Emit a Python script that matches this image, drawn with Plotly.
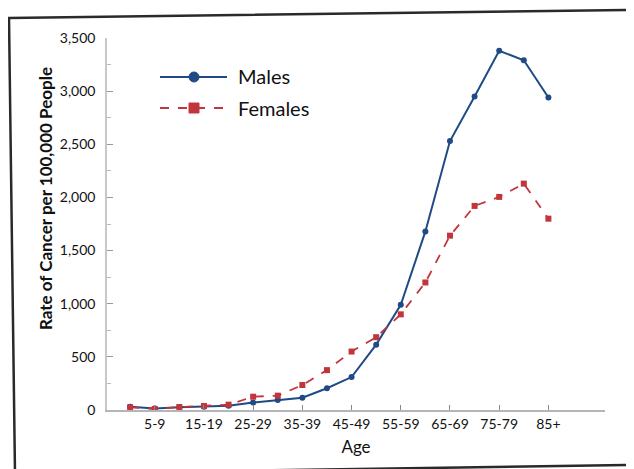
import plotly.graph_objects as go

age_groups = ["0-4", "5-9", "10-14", "15-19", "20-24", "25-29", "30-34", "35-39", "40-44",
              "45-49", "50-54", "55-59", "60-64", "65-69", "70-74", "75-79", "80-84", "85+"]
males = [30, 15, 25, 30, 40, 70, 95, 115, 205, 310, 615, 990, 1680, 2530, 2950, 3380, 3290, 2940]
females = [25, 10, 28, 38, 50, 125, 135, 235, 375, 550, 685, 900, 1200, 1640, 1920, 2005, 2130, 1800]
tick_labels = ["5-9", "15-19", "25-29", "35-39", "45-49", "55-59", "65-69", "75-79", "85+"]
y_ticks = [0, 500, 1000, 1500, 2000, 2500, 3000, 3500]

BLUE = "#1f4a86"
RED = "#c0363c"
FONT = "Lato"
TXT = "#111111"

OFF = 8  # page body margin
W, H = 634 - OFF, 469 - OFF
L, R, T, B = 107, 605, 38, 410  # plot area in reference pixels

def px(x):
    return (x - L) / (R - L)

def py(y):
    return (B - y) / (B - T)

fig = go.Figure()
fig.add_trace(go.Scatter(x=age_groups, y=males, mode="lines+markers", name="Males",
                         line=dict(color=BLUE, width=2),
                         marker=dict(symbol="circle", size=6, color=BLUE)))
fig.add_trace(go.Scatter(x=age_groups, y=females, mode="lines+markers", name="Females",
                         line=dict(color=RED, width=1.8, dash="dash"),
                         marker=dict(symbol="square", size=6, color=RED)))

shapes = []
# scanned frame border
shapes.append(dict(type="path", xref="paper", yref="paper",
                   path=f"M {px(9)},{py(18)} L {px(632)},{py(10)} L {px(634)},{py(465)} L {px(15)},{py(474)} Z",
                   line=dict(color="#2a2a2a", width=2.5), fillcolor="rgba(0,0,0,0)", layer="below"))
# manual legend
shapes.append(dict(type="line", xref="paper", yref="paper", x0=px(160), x1=px(227), y0=py(77), y1=py(77),
                   line=dict(color=BLUE, width=2)))
shapes.append(dict(type="circle", xref="paper", yref="paper", x0=px(189), x1=px(199), y0=py(72), y1=py(82),
                   line=dict(color=BLUE, width=1), fillcolor=BLUE))
shapes.append(dict(type="line", xref="paper", yref="paper", x0=px(160), x1=px(227), y0=py(108), y1=py(108),
                   line=dict(color=RED, width=2, dash="dash")))
shapes.append(dict(type="rect", xref="paper", yref="paper", x0=px(189), x1=px(199), y0=py(103), y1=py(113),
                   line=dict(color=RED, width=1), fillcolor=RED))

annotations = [
    dict(text="Males", xref="paper", yref="paper", x=px(236), y=py(76), xanchor="left", yanchor="middle",
         showarrow=False, font=dict(family=FONT, size=20, color=TXT)),
    dict(text="Females", xref="paper", yref="paper", x=px(236), y=py(108), xanchor="left", yanchor="middle",
         showarrow=False, font=dict(family=FONT, size=20, color=TXT)),
    dict(text="<b>Rate of Cancer per 100,000 People</b>", xref="paper", yref="paper",
         x=px(46), y=py(199), xanchor="center", yanchor="middle", textangle=-90,
         showarrow=False, font=dict(family=FONT, size=17, color=TXT)),
]

fig.update_layout(
    width=W, height=H,
    margin=dict(l=L - OFF, r=W - (R - OFF), t=T - OFF, b=H - (B - OFF)),
    paper_bgcolor="white", plot_bgcolor="white",
    showlegend=False,
    shapes=shapes, annotations=annotations,
    font=dict(family=FONT, color=TXT),
)
fig.update_xaxes(
    type="category", categoryorder="array", categoryarray=age_groups,
    range=[-0.94, 19.3],
    tickvals=tick_labels, ticktext=tick_labels,
    showline=True, linecolor="#b5b5b5", linewidth=1.5,
    ticks="inside", ticklen=5, tickcolor="#888",
    showgrid=False, zeroline=False,
    tickfont=dict(family=FONT, size=14, color=TXT),
    title=dict(text="Age", font=dict(family=FONT, size=17, color=TXT), standoff=11),
)
fig.update_yaxes(
    range=[0, 3500],
    tickvals=y_ticks, tickformat=",",
    showline=True, linecolor="#c8c8c8", linewidth=1.5,
    ticks="inside", ticklen=6, tickcolor="#999",
    minor=dict(dtick=250, ticks="inside", ticklen=4, tickcolor="#bbb"),
    showgrid=False, zeroline=False,
    ticklabelstandoff=7,
    tickfont=dict(family=FONT, size=14, color=TXT),
)

fig.write_html("out.html")
